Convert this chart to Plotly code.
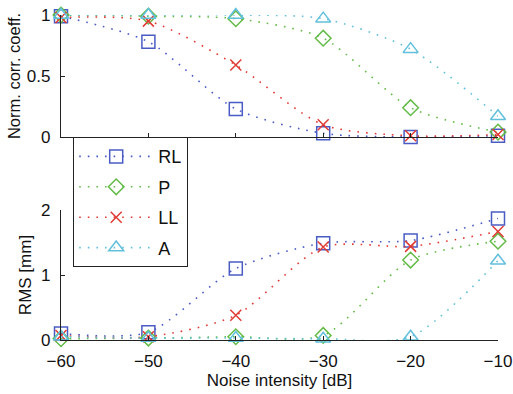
import plotly.graph_objects as go

noise_db = [-60, -50, -40, -30, -20, -10]
series_names = ["RL", "P", "LL", "A"]

corr_RL = [0.99, 0.78, 0.23, 0.03, 0.00, 0.01]
corr_P = [1.00, 0.99, 0.97, 0.81, 0.24, 0.04]
corr_LL = [0.98, 0.95, 0.59, 0.10, 0.01, 0.02]
corr_A = [1.00, 1.00, 1.00, 0.97, 0.72, 0.17]

rms_RL = [0.10, 0.12, 1.10, 1.49, 1.53, 1.87]
rms_P = [0.02, 0.03, 0.05, 0.07, 1.23, 1.52]
rms_LL = [0.07, 0.05, 0.38, 1.43, 1.44, 1.67]
rms_A = [0.05, 0.03, 0.03, 0.02, 0.05, 1.22]

colors = {"RL": "#4a5cc4", "P": "#64bb48", "LL": "#e03a34", "A": "#62c0dc"}
symbols = {"RL": "square-open", "P": "diamond-open", "LL": "x-thin-open", "A": "triangle-up-open"}
sizes = {"RL": 13, "P": 12, "LL": 11, "A": 13}

corr = {"RL": corr_RL, "P": corr_P, "LL": corr_LL, "A": corr_A}
rms = {"RL": rms_RL, "P": rms_P, "LL": rms_LL, "A": rms_A}

FONT = "Liberation Sans, Arial, sans-serif"

fig = go.Figure()
for name in series_names:
    for data, xa, ya, show in [(corr[name], "x", "y", True), (rms[name], "x2", "y2", False)]:
        fig.add_trace(go.Scatter(
            x=noise_db, y=data, xaxis=xa, yaxis=ya, name=name,
            legendgroup=name, showlegend=show, cliponaxis=False,
            mode="lines+markers",
            line=dict(color=colors[name], width=1.6, dash="1.6px,7px", shape="spline", smoothing=0.75),
            marker=dict(symbol=symbols[name], size=sizes[name],
                        color=colors[name], line=dict(color=colors[name], width=1.5)),
        ))

axis_common = dict(
    showline=True, linecolor="#222", linewidth=1.4, mirror=False, automargin=False,
    ticks="inside", ticklen=4, tickcolor="#222", showgrid=False, zeroline=False,
    tickfont=dict(family=FONT, size=17, color="#111"), ticklabeloverflow="allow",
)

X0, X1 = 61 / 513, 498 / 513
fig.update_layout(
    width=513, height=394,
    margin=dict(l=0, r=0, t=0, b=0, autoexpand=False),
    paper_bgcolor="white", plot_bgcolor="white",
    font=dict(family=FONT, size=17, color="#111"),
    xaxis=dict(domain=[X0, X1], range=[-60, -10], tickvals=noise_db, showticklabels=False,
               anchor="y", **axis_common),
    yaxis=dict(domain=[1 - 137 / 394, 1 - 15 / 394], range=[0, 1], tickvals=[0, 0.5, 1],
               ticktext=["0", "0.5", "1"], anchor="x", ticklabelstandoff=6,
               title=dict(text="Norm. corr. coeff.", standoff=1, font=dict(size=16.5)), **axis_common),
    xaxis2=dict(domain=[X0, X1], range=[-60, -10], tickvals=noise_db,
                ticktext=["\u221260", "\u221250", "\u221240", "\u221230", "\u221220", "\u221210"],
                anchor="y2", ticklabelstandoff=5,
                title=dict(text="Noise intensity [dB]", standoff=4, font=dict(size=17)), **axis_common),
    yaxis2=dict(domain=[1 - 340 / 394, 1 - 210 / 394], range=[0, 2], tickvals=[0, 1, 2],
                anchor="x2", ticklabelstandoff=6,
                title=dict(text="RMS [mm]", standoff=4, font=dict(size=17)), **axis_common),
    legend=dict(x=73 / 513, y=1 - 137 / 394, xanchor="left", yanchor="top",
                bgcolor="white", bordercolor="#222", borderwidth=1.2,
                font=dict(family=FONT, size=18, color="#111"),
                itemwidth=74, tracegroupgap=4),
    showlegend=True,
)

fig.write_html("out.html")
